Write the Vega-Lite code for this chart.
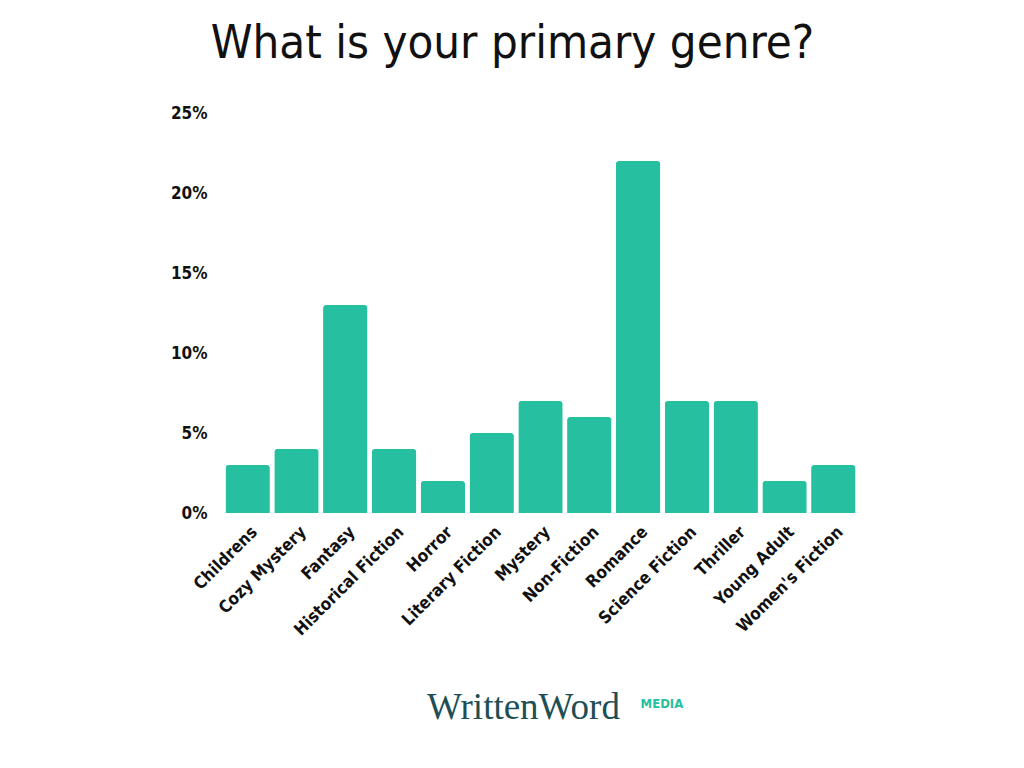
{
  "$schema": "https://vega.github.io/schema/vega-lite/v6.json",
  "autosize": "none",
  "width": 633,
  "height": 400,
  "padding": {"left": 224, "top": 113, "right": 167, "bottom": 255},
  "background": "white",
  "title": {
    "text": "What is your primary genre?",
    "font": "DejaVu Sans Condensed",
    "fontSize": 47,
    "fontWeight": "normal",
    "color": "#111111",
    "anchor": "middle",
    "dx": -28,
    "offset": 36
  },
  "data": {
    "values": [
      {"genre": "Childrens", "pct": 3},
      {"genre": "Cozy Mystery", "pct": 4},
      {"genre": "Fantasy", "pct": 13},
      {"genre": "Historical Fiction", "pct": 4},
      {"genre": "Horror", "pct": 2},
      {"genre": "Literary Fiction", "pct": 5},
      {"genre": "Mystery", "pct": 7},
      {"genre": "Non-Fiction", "pct": 6},
      {"genre": "Romance", "pct": 22},
      {"genre": "Science Fiction", "pct": 7},
      {"genre": "Thriller", "pct": 7},
      {"genre": "Young Adult", "pct": 2},
      {"genre": "Women's Fiction", "pct": 3}
    ]
  },
  "mark": {"type": "bar", "color": "#26BFA0", "cornerRadiusTopLeft": 3, "cornerRadiusTopRight": 3},
  "encoding": {
    "x": {
      "field": "genre",
      "type": "nominal",
      "sort": null,
      "scale": {"paddingInner": 0.09, "paddingOuter": 0.03},
      "axis": {
        "labelAngle": -45,
        "labelAlign": "right",
        "labelBaseline": "middle",
        "labelFont": "DejaVu Sans Condensed",
        "labelFontWeight": "bold",
        "labelFontSize": 17,
        "labelColor": "#111111",
        "labelPadding": 16,
        "labelOffset": 7,
        "ticks": false,
        "domain": false,
        "title": "WrittenWord",
        "titleFont": "Liberation Serif",
        "titleFontSize": 37,
        "titleFontWeight": "normal",
        "titleColor": "#1D4F55",
        "titleX": 299,
        "titleY": 205,
        "titleAlign": "center",
        "titleBaseline": "alphabetic"
      }
    },
    "y": {
      "field": "pct",
      "type": "quantitative",
      "scale": {"domain": [0, 25]},
      "axis": {
        "values": [0, 5, 10, 15, 20, 25],
        "labelExpr": "datum.value + '%'",
        "labelFont": "DejaVu Sans Condensed",
        "labelFontWeight": "bold",
        "labelFontSize": 17,
        "labelColor": "#111111",
        "labelPadding": 17,
        "grid": false,
        "ticks": false,
        "domain": false,
        "title": "MEDIA",
        "titleFont": "DejaVu Sans Condensed",
        "titleFontSize": 13,
        "titleFontWeight": "bold",
        "titleColor": "#26BFA0",
        "titleAngle": 0,
        "titleX": 416,
        "titleY": 590,
        "titleAlign": "left",
        "titleBaseline": "middle"
      }
    }
  },
  "config": {"view": {"stroke": null}}
}
